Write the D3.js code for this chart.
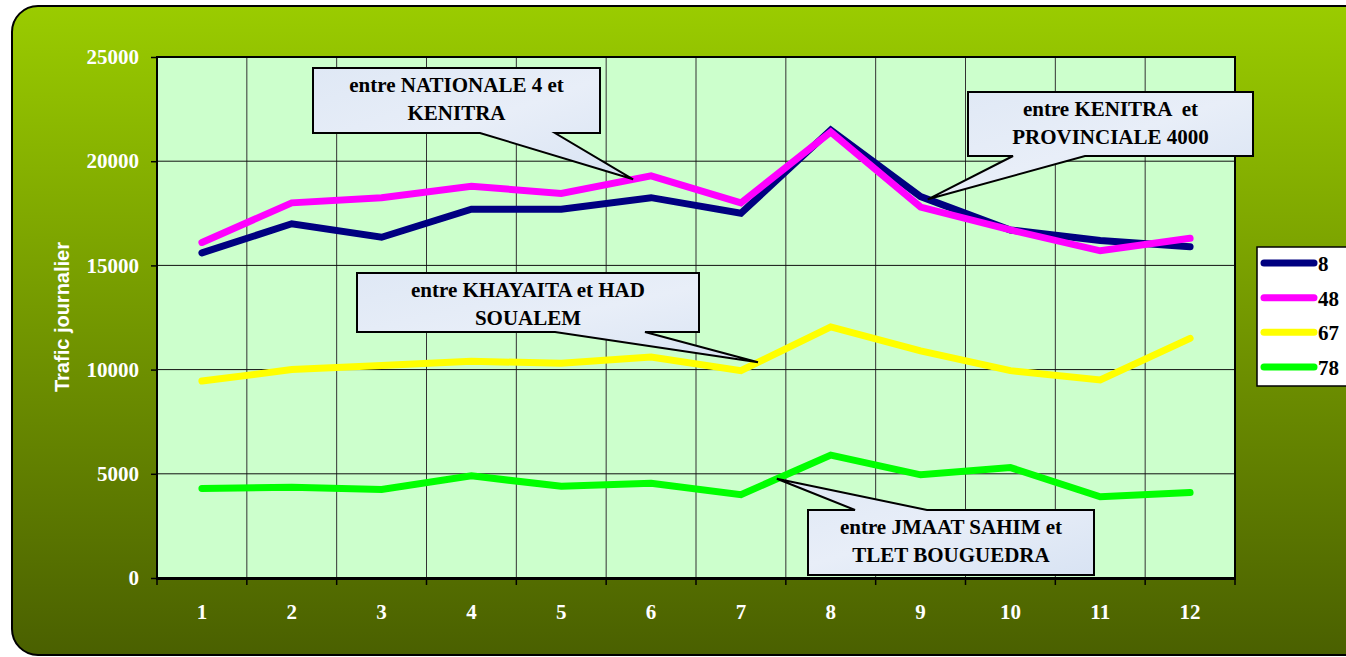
<!DOCTYPE html>
<html lang="fr">
<head>
<meta charset="UTF-8">
<title>Trafic journalier</title>
<script src="https://d3js.org/d3.v7.min.js"></script>
<style>
  body { margin: 0; background: #fff; }
  svg { display: block; }
  .tick-label { font-family: "Liberation Serif", "Times New Roman", serif; font-weight: bold; fill: #fff; font-size: 21px; }
  .callout-text { font-family: "Liberation Serif", "Times New Roman", serif; font-weight: bold; fill: #000; font-size: 21px; white-space: pre; }
  .legend-text { font-family: "Liberation Serif", "Times New Roman", serif; font-weight: bold; fill: #000; font-size: 21px; }
</style>
</head>
<body>
<div id="chart"></div>
<script>
const width = 1346, height = 657;

// data
const months = [1, 2, 3, 4, 5, 6, 7, 8, 9, 10, 11, 12];
const seriesNames = ["8", "48", "67", "78"];
const seriesColors = ["#000080", "#ff00ff", "#ffff00", "#00ff00"];
const route8  = [15600, 17000, 16350, 17700, 17700, 18250, 17500, 21500, 18300, 16700, 16200, 15900];
const route48 = [16100, 18000, 18250, 18800, 18450, 19300, 18000, 21400, 17800, 16700, 15700, 16300];
const route67 = [9450, 10000, 10200, 10400, 10300, 10600, 9950, 12050, 10900, 9950, 9500, 11500];
const route78 = [4300, 4350, 4250, 4900, 4400, 4550, 4000, 5900, 4950, 5300, 3900, 4100];
const yTicks = [0, 5000, 10000, 15000, 20000, 25000];

// callouts: series index, position along x (category units), box, text lines
const callouts = [
  { s: 1, at: 5.8,  box: [313, 68, 287, 65],  base: [480, 555], lines: ["entre NATIONALE 4 et", "KENITRA"] },
  { s: 0, at: 9.08, box: [968, 92, 285, 64],  base: [1013, 1085], lines: ["entre KENITRA  et", "PROVINCIALE 4000"] },
  { s: 2, at: 7.19, box: [357, 273, 342, 59], base: [555, 645], lines: ["entre KHAYAITA et HAD", "SOUALEM"] },
  { s: 3, at: 7.4,  box: [808, 510, 286, 65], base: [855, 927], lines: ["entre JMAAT SAHIM et", "TLET BOUGUEDRA"], top: true }
];

const series = [route8, route48, route67, route78];

const svg = d3.select("#chart").append("svg")
  .attr("width", width)
  .attr("height", height);

const defs = svg.append("defs");
const bg = defs.append("linearGradient").attr("id", "bg")
  .attr("x1", 0).attr("y1", 0).attr("x2", 0).attr("y2", 1);
bg.append("stop").attr("offset", "0%").attr("stop-color", "#9acc00");
bg.append("stop").attr("offset", "100%").attr("stop-color", "#4a6000");

const cf = defs.append("linearGradient").attr("id", "callfill")
  .attr("x1", 0).attr("y1", 0).attr("x2", 1).attr("y2", 1);
cf.append("stop").attr("offset", "0%").attr("stop-color", "#dfe8f5");
cf.append("stop").attr("offset", "50%").attr("stop-color", "#e8eef8");
cf.append("stop").attr("offset", "100%").attr("stop-color", "#d8e3f3");

// outer panel
svg.append("rect")
  .attr("x", 12).attr("y", 6)
  .attr("width", width + 30).attr("height", 649)
  .attr("rx", 26).attr("ry", 26)
  .attr("fill", "url(#bg)")
  .attr("stroke", "#000").attr("stroke-width", 2);

const plot = { left: 157, top: 57, right: 1235, bottom: 578 };

const x = d3.scaleBand()
  .domain(months)
  .range([plot.left, plot.right]);

const y = d3.scaleLinear()
  .domain([0, 25000])
  .range([plot.bottom, plot.top]);

// plot background
svg.append("rect")
  .attr("x", plot.left).attr("y", plot.top)
  .attr("width", plot.right - plot.left)
  .attr("height", plot.bottom - plot.top)
  .attr("fill", "#ccffcc");

// gridlines
svg.append("g").selectAll("line")
  .data(months.slice(1))
  .join("line")
  .attr("x1", d => x(d)).attr("x2", d => x(d))
  .attr("y1", plot.top).attr("y2", plot.bottom)
  .attr("stroke", "#333").attr("stroke-width", 1);

svg.append("g").selectAll("line")
  .data(yTicks.slice(1, -1))
  .join("line")
  .attr("x1", plot.left).attr("x2", plot.right)
  .attr("y1", d => y(d)).attr("y2", d => y(d))
  .attr("stroke", "#111").attr("stroke-width", 1);

// frame
svg.append("rect")
  .attr("x", plot.left).attr("y", plot.top)
  .attr("width", plot.right - plot.left)
  .attr("height", plot.bottom - plot.top)
  .attr("fill", "none")
  .attr("stroke", "#000").attr("stroke-width", 2);
svg.append("line")
  .attr("x1", plot.left - 1).attr("x2", plot.right + 1)
  .attr("y1", plot.bottom + 1).attr("y2", plot.bottom + 1)
  .attr("stroke", "#000").attr("stroke-width", 2);

// y axis
const yAxis = svg.append("g")
  .attr("transform", `translate(${plot.left},0)`)
  .call(d3.axisLeft(y).tickValues(yTicks).tickSize(6).tickPadding(12).tickFormat(d3.format("d")));
yAxis.select(".domain").remove();
yAxis.selectAll(".tick line").attr("stroke", "#000").attr("stroke-width", 1.5);
yAxis.selectAll(".tick text").attr("class", "tick-label").attr("font-size", null).attr("font-family", null);

// x axis
const xTickPos = months.map(d => x(d)).concat([plot.right]);
svg.append("g").selectAll("line")
  .data(xTickPos)
  .join("line")
  .attr("x1", d => d).attr("x2", d => d)
  .attr("y1", plot.bottom).attr("y2", plot.bottom + 7)
  .attr("stroke", "#000").attr("stroke-width", 1.5);

svg.append("g").selectAll("text")
  .data(months)
  .join("text")
  .attr("class", "tick-label")
  .attr("x", d => x(d) + x.bandwidth() / 2)
  .attr("y", 619)
  .attr("text-anchor", "middle")
  .text(d => d);

// y axis title
svg.append("text")
  .attr("transform", "translate(69,317) rotate(-90)")
  .attr("text-anchor", "middle")
  .attr("font-family", "'Liberation Sans', Arial, sans-serif")
  .attr("font-weight", "bold")
  .attr("font-size", 20)
  .attr("fill", "#fff")
  .text("Trafic journalier");

// lines
const line = d3.line()
  .x((d, i) => x(months[i]) + x.bandwidth() / 2)
  .y(d => y(d));

svg.append("g").selectAll("path")
  .data(series)
  .join("path")
  .attr("d", line)
  .attr("fill", "none")
  .attr("stroke", (d, i) => seriesColors[i])
  .attr("stroke-width", 7)
  .attr("stroke-linejoin", "miter")
  .attr("stroke-linecap", "round");

// callouts
function pointOn(s, at) {
  const i = Math.floor(at) - 1;
  const t = at - Math.floor(at);
  const v = series[s][i] + (series[s][i + 1] - series[s][i]) * t;
  const x0 = x(months[i]) + x.bandwidth() / 2;
  return [x0 + t * x.step(), y(v)];
}

callouts.forEach(c => {
  const [bx, by, bw, bh] = c.box;
  const tip = pointOn(c.s, c.at);
  let p;
  if (c.top) {
    p = `M${bx},${by} L${c.base[0]},${by} L${tip[0]},${tip[1]} L${c.base[1]},${by} L${bx + bw},${by} L${bx + bw},${by + bh} L${bx},${by + bh} Z`;
  } else {
    p = `M${bx},${by} L${bx + bw},${by} L${bx + bw},${by + bh} L${c.base[1]},${by + bh} L${tip[0]},${tip[1]} L${c.base[0]},${by + bh} L${bx},${by + bh} Z`;
  }
  svg.append("path")
    .attr("d", p)
    .attr("fill", "url(#callfill)")
    .attr("stroke", "#000")
    .attr("stroke-width", 2)
    .attr("stroke-linejoin", "miter");
  const t = svg.append("text")
    .attr("class", "callout-text")
    .attr("text-anchor", "middle");
  c.lines.forEach((l, k) => {
    t.append("tspan")
      .attr("x", bx + bw / 2)
      .attr("y", by + 24 + k * 28)
      .text(l);
  });
});

// legend
const leg = svg.append("g");
leg.append("rect")
  .attr("x", 1257).attr("y", 247)
  .attr("width", 100).attr("height", 139)
  .attr("fill", "#fff")
  .attr("stroke", "#000").attr("stroke-width", 1.5);

const legRow = d3.scalePoint().domain(seriesNames).range([263, 367]);
seriesNames.forEach((n, i) => {
  leg.append("line")
    .attr("x1", 1264).attr("x2", 1314)
    .attr("y1", legRow(n)).attr("y2", legRow(n))
    .attr("stroke", seriesColors[i])
    .attr("stroke-width", 7)
    .attr("stroke-linecap", "round");
  leg.append("text")
    .attr("class", "legend-text")
    .attr("x", 1318)
    .attr("y", legRow(n) + 8)
    .text(n);
});
</script>
</body>
</html>
